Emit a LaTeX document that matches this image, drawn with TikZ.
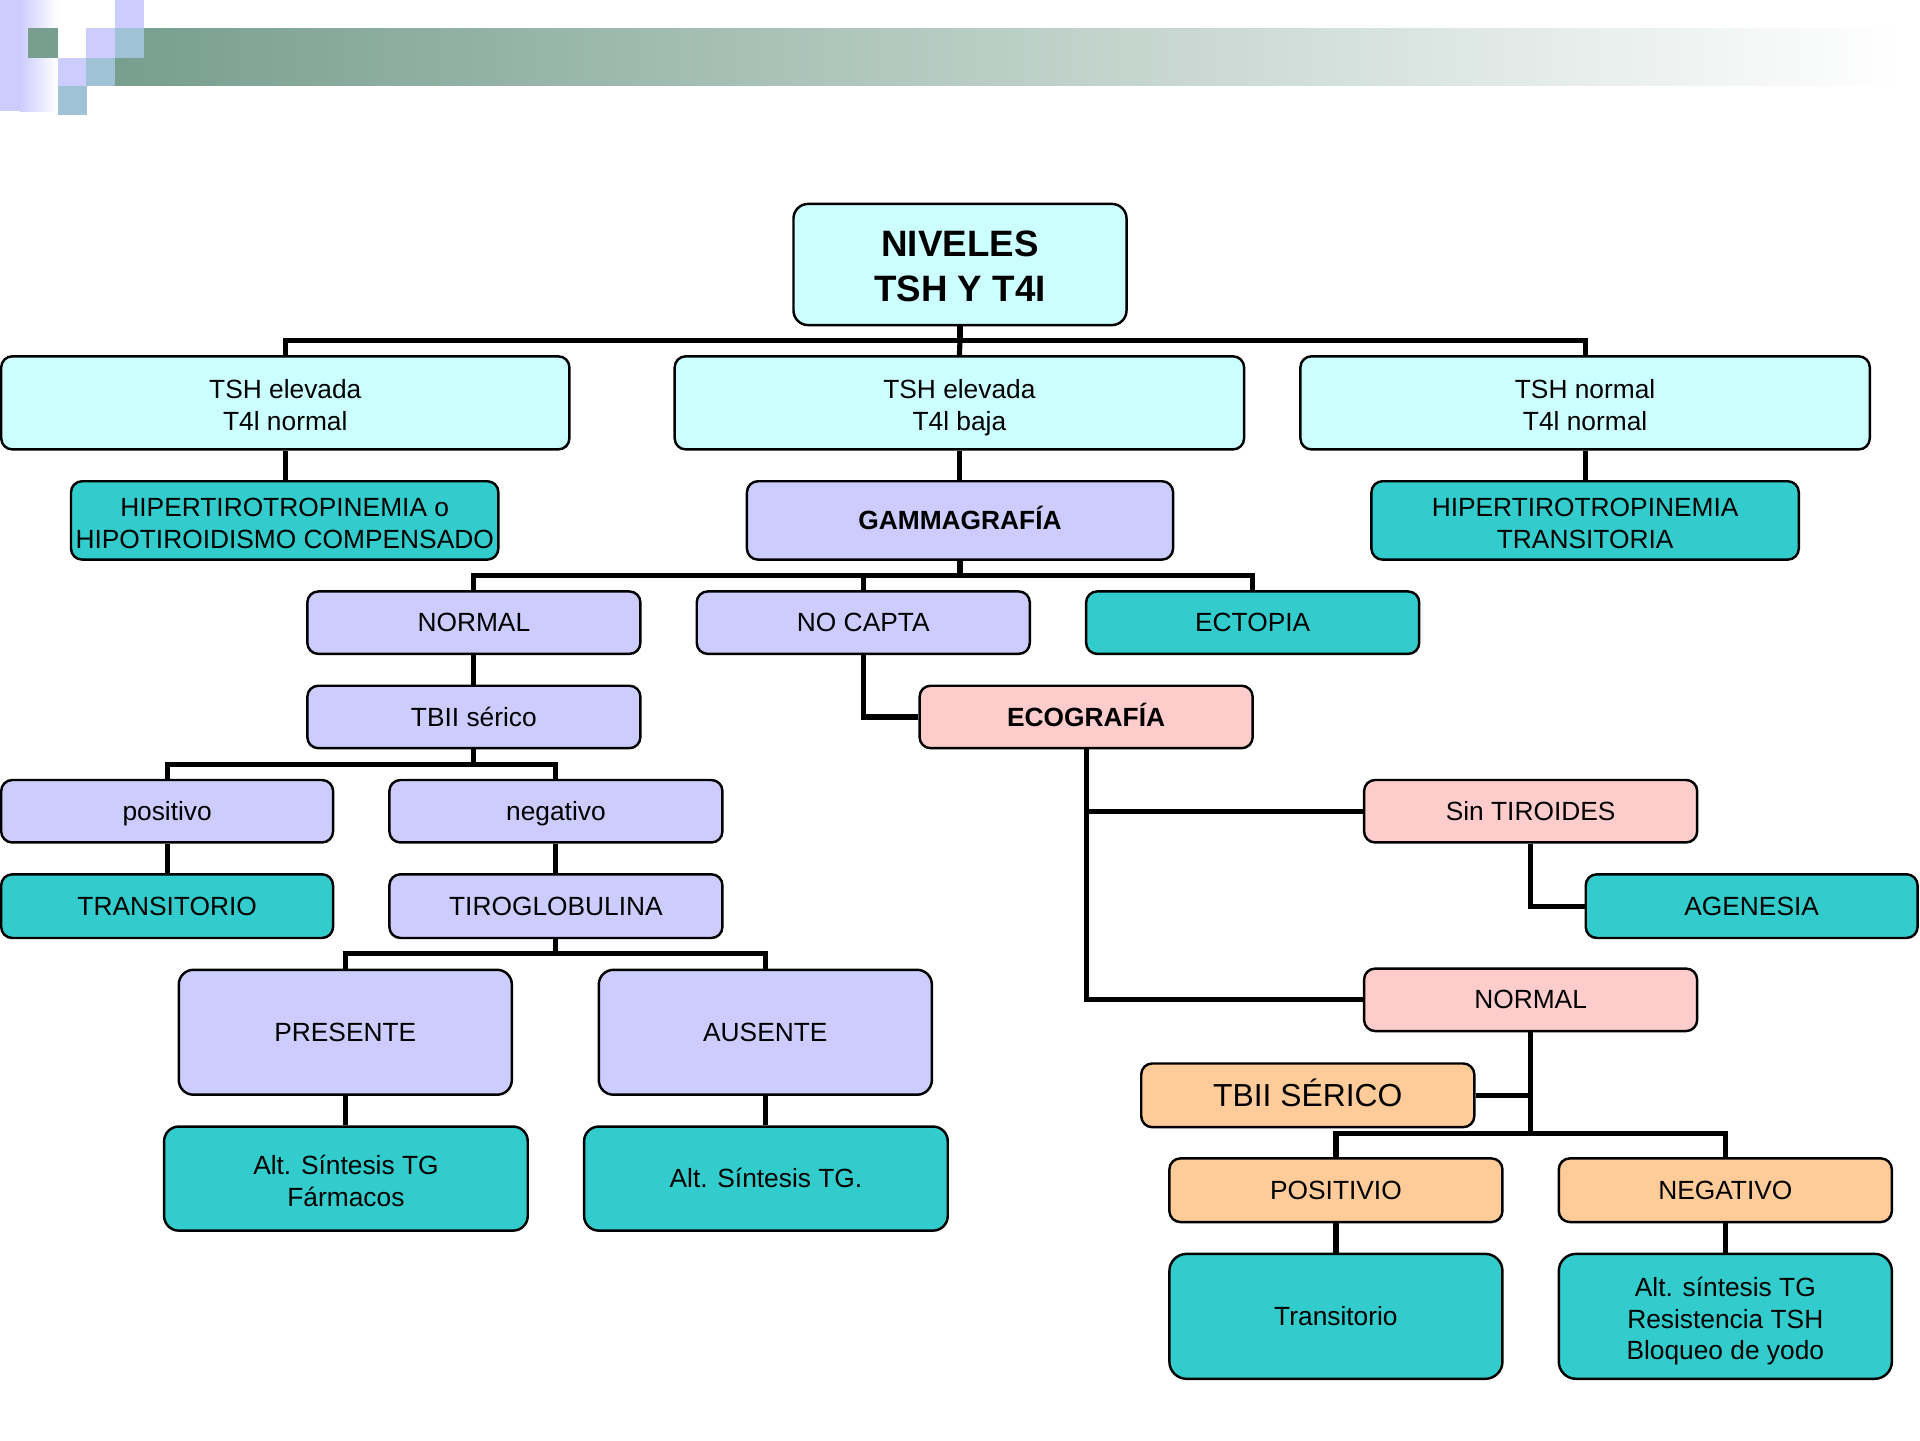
\documentclass[tikz,border=0pt]{standalone}
\usepackage{fontspec}
\setmainfont{Liberation Sans}
\usetikzlibrary{backgrounds}
\definecolor{cyanbox}{HTML}{CCFFFF}
\definecolor{lavbox}{HTML}{CCCCFF}
\definecolor{tealbox}{HTML}{33CCCC}
\definecolor{pinkbox}{HTML}{FFCCCC}
\definecolor{orangebox}{HTML}{FFCC99}
\definecolor{bgreen}{HTML}{779E8E}
\definecolor{bblue}{HTML}{9FC2D6}
\newcommand\mystrut{\rule[-0.212em]{0pt}{1.117em}}
\newcommand\mltop{\rule{0pt}{1.1em}}
\begin{document}
\begin{tikzpicture}[x=1pt,y=-1pt,
  box/.style={draw=black, line width=2pt, rounded corners=9pt, align=center, inner sep=0pt,
    minimum width=272pt, minimum height=51pt, font=\fontsize{21.5}{26}\selectfont,
    execute at begin node=\mystrut, execute at end node=\mystrut},
  cy/.style={box, fill=cyanbox},
  lv/.style={box, fill=lavbox},
  tl/.style={box, fill=tealbox},
  pk/.style={box, fill=pinkbox},
  og/.style={box, fill=orangebox},
  conn/.style={line width=4.2pt, draw=black}]
\useasboundingbox (0,0) rectangle (1568,1176);
% banner
\fill[lavbox] (0,0) rectangle (16,91);
\shade[left color=lavbox, right color=white] (16,0) rectangle (47,91);
\shade[left color=bgreen, right color=white] (94,23) rectangle (1552,70);
\fill[bgreen] (23,23) rectangle (47,47);
\fill[lavbox] (70,23) rectangle (94,47);
\fill[lavbox] (94,0) rectangle (118,23);
\fill[bblue] (94,23) rectangle (118,47);
\fill[lavbox] (47,47) rectangle (70,70);
\fill[bblue] (70,47) rectangle (94,70);
\fill[bblue] (47,70) rectangle (71,94);

% nodes
\node[cy, minimum width=272pt, minimum height=99pt, rounded corners=12pt,
  font=\fontsize{30}{36.5}\selectfont\bfseries] (root) at (784,216) {\rule{0pt}{0.995em}NIVELES\\TSH Y T4I};
\node[cy, minimum width=464pt, minimum height=76pt] (A) at (233,329) {\mltop TSH elevada\\T4l normal};
\node[cy, minimum width=465pt, minimum height=76pt] (B) at (783.5,329) {\mltop TSH elevada\\T4l baja};
\node[cy, minimum width=465pt, minimum height=76pt] (C) at (1294.5,329) {\mltop TSH normal\\T4l normal};
\node[tl, minimum width=349pt, minimum height=64pt] (A2) at (232.5,425) {\mltop HIPERTIROTROPINEMIA o\\HIPOTIROIDISMO COMPENSADO};
\node[lv, minimum width=348pt, minimum height=64pt, font=\fontsize{21.5}{26}\selectfont\bfseries] (B2) at (784,425) {GAMMAGRAFÍA};
\node[tl, minimum width=349pt, minimum height=64pt] (C2) at (1294.5,425) {\mltop HIPERTIROTROPINEMIA\\TRANSITORIA};
\node[lv] (N3) at (387,508.5) {NORMAL};
\node[lv] (NC) at (705,508.5) {NO CAPTA};
\node[tl] (EC) at (1023,508.5) {ECTOPIA};
\node[lv] (TB) at (387,585.5) {TBII sérico};
\node[pk, font=\fontsize{21.5}{26}\selectfont\bfseries] (ECO) at (887,585.5) {ECOGRAFÍA};
\node[lv, minimum width=271pt] (POS) at (136.5,662.5) {positivo};
\node[lv] (NEG) at (454,662.5) {negativo};
\node[tl, minimum width=271pt, minimum height=52pt] (TRA) at (136.5,740) {TRANSITORIO};
\node[lv, minimum height=52pt] (TIR) at (454,740) {TIROGLOBULINA};
\node[lv, minimum height=102pt, rounded corners=12pt] (PRE) at (282,843) {PRESENTE};
\node[lv, minimum height=102pt, rounded corners=12pt] (AUS) at (625,843) {AUSENTE};
\node[tl, minimum width=297pt, minimum height=85pt, rounded corners=12pt] (ALT1) at (282.5,962.5) {\mltop Alt. Síntesis TG\\Fármacos};
\node[tl, minimum width=297pt, minimum height=85pt, rounded corners=12pt] (ALT2) at (625.5,962.5) {Alt. Síntesis TG.};
\node[pk] (SIN) at (1250,662.5) {Sin TIROIDES};
\node[tl, minimum width=271pt, minimum height=52pt] (AGE) at (1430.5,740) {AGENESIA};
\node[pk] (NOR2) at (1250,816.5) {NORMAL};
\node[og, minimum height=52pt, font=\fontsize{26}{30}\selectfont] (TBS) at (1068,894.5) {TBII SÉRICO};
\node[og, minimum height=52pt] (POS2) at (1091,972) {POSITIVIO};
\node[og, minimum height=52pt] (NEG2) at (1409,972) {NEGATIVO};
\node[tl, minimum height=102pt, rounded corners=14pt] (TRS) at (1091,1075) {Transitorio};
\node[tl, minimum height=102pt, rounded corners=14pt] (ALT3) at (1409,1075) {\mltop Alt. síntesis TG\\Resistencia TSH\\Bloqueo de yodo};

% connectors
\begin{scope}[on background layer]
\coordinate (bus1) at (784,278);
\draw[conn] (root.south) -- (bus1);
\draw[conn] (A.north) |- (bus1) -| (C.north);
\draw[conn] (bus1) -- (B.north);
\draw[conn] (A.south) -- (A.south |- A2.north);
\draw[conn] (B.south) -- (B.south |- B2.north);
\draw[conn] (C.south) -- (C.south |- C2.north);
\coordinate (bus2) at (784,470);
\draw[conn] (B2.south) -- (bus2);
\draw[conn] (N3.north) |- (bus2) -| (EC.north);
\draw[conn] (bus2 -| NC.north) -- (NC.north);
\draw[conn] (N3.south) -- (TB.north);
\draw[conn] (NC.south) |- (ECO.west);
\coordinate (bus3) at (387,624);
\draw[conn] (TB.south) -- (bus3);
\draw[conn] (POS.north) |- (bus3) -| (NEG.north);
\draw[conn] (POS.south) -- (TRA.north);
\draw[conn] (NEG.south) -- (TIR.north);
\coordinate (bus4) at (454,779);
\draw[conn] (TIR.south) -- (bus4);
\draw[conn] (PRE.north) |- (bus4) -| (AUS.north);
\draw[conn] (PRE.south) -- (ALT1.north -| PRE.south);
\draw[conn] (AUS.south) -- (ALT2.north -| AUS.south);
\draw[conn] (ECO.south) |- (NOR2.west);
\draw[conn] (ECO.south |- SIN.west) -- (SIN.west);
\draw[conn] (SIN.south) |- (AGE.west);
\coordinate (bus5) at (1250,926);
\draw[conn] (NOR2.south) -- (bus5);
\draw[conn] (TBS.east) -- (TBS.east -| NOR2.south);
\draw[conn] (POS2.north) |- (bus5) -| (NEG2.north);
\draw[conn] (POS2.south) -- (TRS.north);
\draw[conn] (NEG2.south) -- (ALT3.north);
\end{scope}
\end{tikzpicture}
\end{document}
